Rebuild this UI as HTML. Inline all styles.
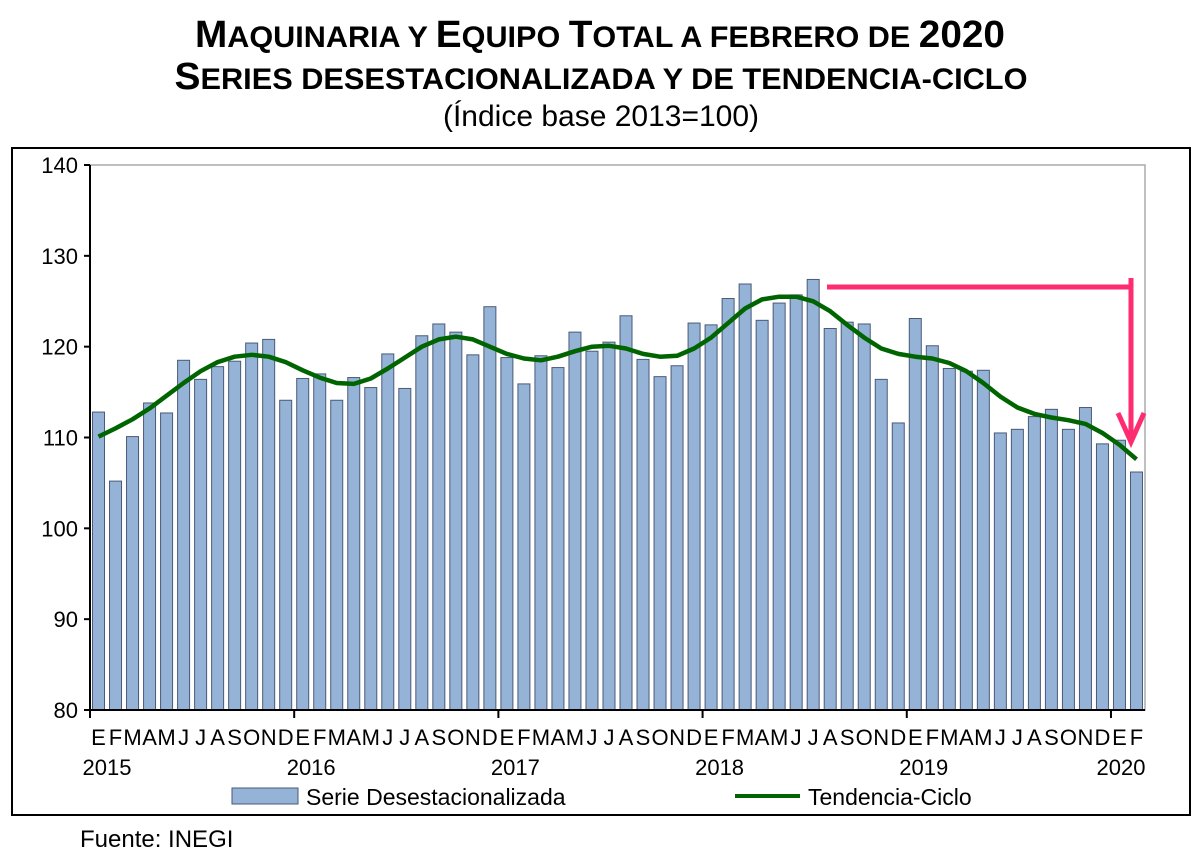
<!DOCTYPE html>
<html><head><meta charset="utf-8"><style>
body{margin:0;background:#fff;font-family:"Liberation Sans",sans-serif}
</style></head><body>
<svg width="1200" height="863" xmlns="http://www.w3.org/2000/svg" font-family="Liberation Sans, sans-serif">
<g font-weight="bold" text-anchor="middle" fill="#000">
<text x="600" y="47" font-size="38" textLength="810" lengthAdjust="spacingAndGlyphs">M<tspan font-size="30">AQUINARIA Y </tspan>E<tspan font-size="30">QUIPO </tspan>T<tspan font-size="30">OTAL A FEBRERO DE </tspan>2020</text>
<text x="601" y="89" font-size="38" textLength="853" lengthAdjust="spacingAndGlyphs">S<tspan font-size="30">ERIES DESESTACIONALIZADA Y DE TENDENCIA-CICLO</tspan></text>
</g>
<text x="601" y="126" font-size="30" text-anchor="middle">(Índice base 2013=100)</text>
<rect x="12" y="148" width="1178" height="667" fill="none" stroke="#000" stroke-width="2"/>
<g id="plot"></g>
<text x="80" y="847" font-size="24">Fuente: INEGI</text>
</svg>
<script>
const bars=[112.8,105.2,110.1,113.8,112.7,118.5,116.4,117.8,118.4,120.4,120.8,114.1,
116.5,117.0,114.1,116.6,115.5,119.2,115.4,121.2,122.5,121.6,119.1,124.4,
118.8,115.9,119.0,117.7,121.6,119.5,120.5,123.4,118.6,116.7,117.9,122.6,
122.4,125.3,126.9,122.9,124.8,125.7,127.4,122.0,122.7,122.5,116.4,111.6,
123.1,120.1,117.6,117.3,117.4,110.5,110.9,112.3,113.1,110.9,113.3,109.3,
109.7,106.2];
const trend=[110.1,111,112,113.2,114.6,116,117.3,118.3,118.9,119.1,118.9,118.3,
117.4,116.6,116,115.9,116.5,117.6,118.8,120,120.8,121.1,120.8,120,
119.2,118.7,118.5,118.9,119.5,120,120.1,119.8,119.2,118.9,119,119.8,
121,122.6,124.2,125.2,125.5,125.5,125,123.9,122.4,121,119.8,119.2,
118.9,118.7,118.2,117.3,116,114.5,113.3,112.6,112.2,111.9,111.5,110.5,
109.2,107.6];
const monthLabels=["E","F","M","A","M","J","J","A","S","O","N","D"];
const years=["2015","2016","2017","2018","2019","2020"];
const yTicks=[80,90,100,110,120,130,140];
const NS="http://www.w3.org/2000/svg";
const g=document.getElementById('plot');
const X0=90,X1=1145,Y0=710,Y1=165,step=(X1-X0)/62;
const yS=v=>Y0-(v-80)/(140-80)*(Y0-Y1);
const xC=i=>X0+step*(i+0.5);
function mk(t,a){const e=document.createElementNS(NS,t);for(const k in a)e.setAttribute(k,a[k]);g.appendChild(e);return e;}
const frame=mk('rect',{x:X0,y:Y1,width:X1-X0,height:Y0-Y1,fill:'none',stroke:'#aaa','stroke-width':1.5});


yTicks.forEach(v=>{
 const t=mk('line',{x1:X0-6,x2:X0,y1:yS(v),y2:yS(v),stroke:'#000','stroke-width':2});
 
 
 const l=mk('text',{x:X0-12,y:yS(v)+8,'font-size':22,'text-anchor':'end'});l.textContent=v;
 
 
});
bars.forEach((v,i)=>{
 const r=mk('rect',{x:xC(i)-6,y:yS(v),width:12,height:Y0-yS(v),fill:'#95b3d7',stroke:'#4a5a78','stroke-width':1});
 
 
 const ml=mk('text',{x:xC(i),y:745,'font-size':22,'text-anchor':'middle'});ml.textContent=monthLabels[i%12];
 
 
});
const ax=mk('line',{x1:X0,x2:X0,y1:Y1,y2:Y0,stroke:'#000','stroke-width':2});


const bx=mk('line',{x1:X0,x2:X1,y1:Y0,y2:Y0,stroke:'#000','stroke-width':2});


years.forEach((y,k)=>{
 const xx=X0+k*12*step;
 const t=mk('line',{x1:xx,x2:xx,y1:Y0,y2:Y0+8,stroke:'#000','stroke-width':2});
 
 
 const l=mk('text',{x:k==5?xx+10:xx+17,y:775,'font-size':22,'text-anchor':'middle'});l.textContent=y;
 
 
});
let d='';trend.forEach((v,i)=>{d+=(i?'L':'M')+xC(i).toFixed(1)+','+yS(v).toFixed(1);});
const p=mk('path',{d:d,fill:'none',stroke:'#006400','stroke-width':4.5,'stroke-linejoin':'round'});


const ar=mk('path',{d:'M827,287 L1131,287 M1131,278 L1131,440 M1118,413 L1131,442 L1144,413',fill:'none',stroke:'#ff2d6f','stroke-width':5});


const lb=mk('rect',{x:232,y:788,width:66,height:16,fill:'#95b3d7',stroke:'#4a5a78'});


const lt=mk('text',{x:306,y:805,'font-size':23});lt.textContent='Serie Desestacionalizada';


const ll=mk('line',{x1:735,x2:800,y1:796,y2:796,stroke:'#006400','stroke-width':4});


const lt2=mk('text',{x:808,y:805,'font-size':23});lt2.textContent='Tendencia-Ciclo';


</script>
</body></html>
